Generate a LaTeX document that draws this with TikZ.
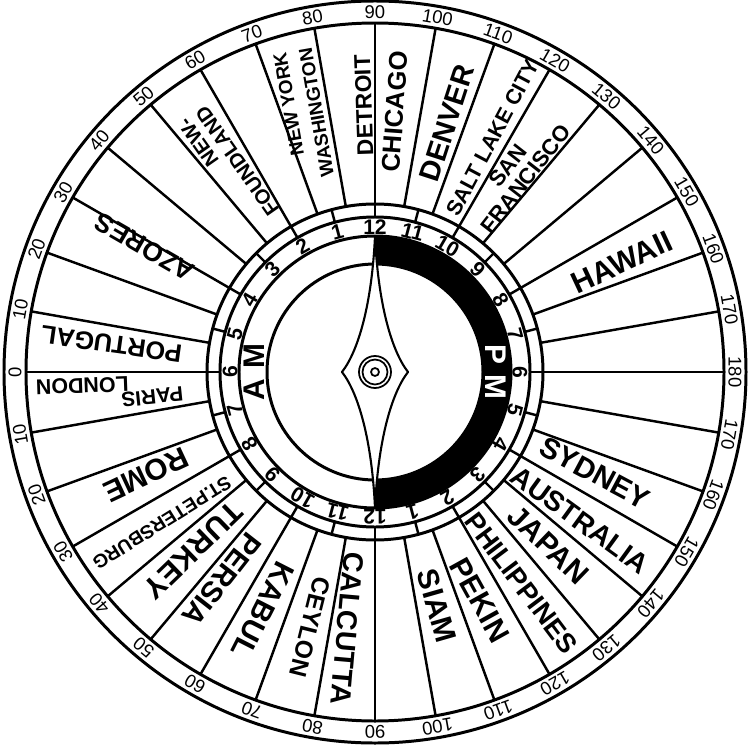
\documentclass[tikz,border=0pt]{standalone}
\usepackage{fontspec}
\setmainfont{Liberation Sans}

\tikzstyle{ring}=[draw,line width=1.7pt]
\tikzstyle{spoke}=[draw,line width=1.4pt]
\tikzstyle{degree}=[font=\fontsize{10.5}{10.5}\selectfont,inner sep=0pt]
\tikzstyle{hour}=[font=\bfseries\fontsize{12}{12}\selectfont,inner sep=0pt]
\tikzstyle{city}=[inner sep=0pt]
\tikzstyle{needle}=[draw,fill=white,line width=1.2pt,line join=round]
\newcommand{\dialunit}{0.2mm}

\begin{document}
\begin{tikzpicture}[x=\dialunit, y=\dialunit]
    \useasboundingbox (-375,-375) rectangle (374,372);
    % First the rings and the spokes
    \path[ring] (0,0) circle (371) (0,0) circle (349);
    \path[ring] (0,0) circle (168) (0,0) circle (155) (0,0) circle (136);
    \foreach \a in {0,10,...,350}
        \path[spoke] (\a:168) -- (\a:349);
    \foreach \a in {0,15,...,345}
        \path[spoke] (\a:155) -- (\a:168);
    % Degrees of longitude
    \foreach \a in {0,10,...,350}{
        \pgfmathtruncatemacro{\lon}{abs(180-\a)}
        \node[degree, rotate=\a-90] (deg\a) at (\a:360) {\lon};
    }
    % Hours of the day
    \foreach \k in {0,...,23}{
        \pgfmathtruncatemacro{\hr}{ifthenelse(mod(\k,12)==0,12,mod(\k,12))}
        \node[hour, rotate=15*\k] (hr\k) at ({90+15*\k}:145) {\hr};
    }
    % Black half for the afternoon
    \fill (0,-136) arc[start angle=-90, end angle=90, radius=136]
        -- (0,108) arc[start angle=90, end angle=-90, radius=108] -- cycle;
    \path[ring] (0,0) circle (108);
    \node[font=\bfseries\fontsize{17}{17}\selectfont, rotate=90] (am) at (180:121) {A\hspace{6pt}M};
    \node[font=\bfseries\fontsize{17}{17}\selectfont, rotate=-90, text=white] (pm) at (0:121) {P\hspace{6pt}M};
    % The needle and its pivot
    \path[needle] (0,136) .. controls (-3,70) and (-16,22) .. (-33,0)
        .. controls (-16,-22) and (-3,-70) .. (0,-136)
        .. controls (3,-70) and (16,-22) .. (33,0)
        .. controls (16,22) and (3,70) .. cycle;
    \draw[line width=1pt] (0,0) circle (16) (0,0) circle (12.5) (0,0) circle (4);
    % Places in each sector
    \foreach \ang/\rad/\rot/\sz/\bs/\al/\name/\txt in {
        174/265/172/14.4/15/center/portugal/PORTUGAL,
        151.5/262/150/15/16/center/azores/AZORES,
        125.5/252/125/11.6/12/right/newfoundland/{NEW-\\FOUNDLAND},
        105.5/267/100/10.8/14.8/right/newyork/{NEW YORK\\WASHINGTON},
        92.4/267/92/13/14/center/detroit/DETROIT,
        85.6/261/86/14.6/15/center/chicago/CHICAGO,
        73.9/259/72/16.4/17/center/denver/DENVER,
        63.4/262/62/12.2/13/center/saltlake/SALT LAKE CITY,
        54.6/245/52/12.6/12.5/center/sanfrancisco/{SAN\\FRANCISCO},
        24/270/25/17.2/18/center/hawaii/HAWAII,
        -24.7/242/-28/16.6/17/center/sydney/SYDNEY,
        -35.8/253/-36/16/17/center/australia/AUSTRALIA,
        -45/245/-44/17/18/center/japan/JAPAN,
        -55.3/257/-53/15.4/16/center/philippines/PHILIPPINES,
        -65.3/251/-61/17/18/center/pekin/PEKIN,
        -75.2/242/-74/17/18/center/siam/SIAM,
        263.8/258/265/16.2/17/center/calcutta/CALCUTTA,
        255.7/263/256/14/15/center/ceylon/CEYLON,
        244.8/263/243/16.8/17/center/kabul/KABUL,
        233.7/258/232/16.6/17/center/persia/PERSIA,
        224.4/255/224/17.2/18/center/turkey/TURKEY,
        215.3/261/212/10.8/12/center/stpetersburg/ST.PETERSBURG,
        204.2/251/205/17/18/center/rome/ROME,
        186.4/224/186/11.8/12/center/paris/PARIS,
        182.7/293/182/12.2/13/center/london/LONDON}
        \node[city, align=\al, rotate=\rot, font=\bfseries\fontsize{\sz}{\bs}\selectfont]
            (\name) at (\ang:\rad) {\txt};
\end{tikzpicture}
\end{document}
